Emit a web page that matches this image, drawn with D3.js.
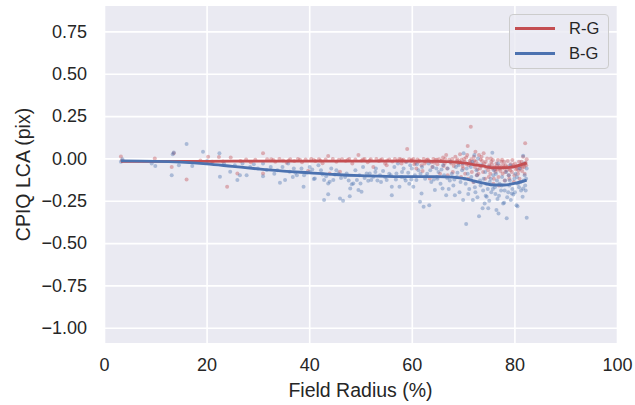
<!DOCTYPE html>
<html>
<head>
<meta charset="utf-8">
<script src="https://cdn.jsdelivr.net/npm/d3@7"></script>
<style>
  html, body { margin: 0; padding: 0; background: #ffffff; }
  svg { display: block; }
  text { font-family: "Liberation Sans", Arial, sans-serif; fill: #262626; }
</style>
</head>
<body>
<svg id="chart" width="635" height="405"></svg>
<script>
// Measured lateral chromatic aberration (pixels) against field radius (%)
const seriesNames = ["R-G", "B-G"];
const seriesColors = ["#c44e52", "#4c72b0"];

const xTicks = [0, 20, 40, 60, 80, 100];
const yTicks = [-1.0, -0.75, -0.5, -0.25, 0.0, 0.25, 0.5, 0.75];

// R-G samples: [field radius, LCA]
const redPoints = [
  [3.3,0.012],[3.5,-0.012],[9.9,0.0],[13.6,0.03],[13.2,-0.05],[16.1,-0.124],[18.8,-0.012],[20.3,0.01],
  [21.2,-0.02],[22.4,0.008],[23.2,-0.018],[24.0,-0.168],[24.7,0.006],[26.0,-0.089],[26.6,-0.015],
  [27.7,-0.006],[28.6,-0.022],[29.5,-0.008],[31.0,0.03],[31.0,-0.089],[31.8,-0.005],
  [32.6,-0.005],[33.4,-0.02],[34.2,-0.004],[34.9,-0.012],[35.6,-0.025],[36.3,-0.005],[37.1,-0.015],
  [37.8,-0.004],[38.6,-0.022],[39.3,-0.006],[39.8,-0.073],[40.4,-0.004],[41.2,-0.016],[41.9,-0.005],
  [42.6,-0.028],[43.2,-0.006],[43.7,0.014],[44.0,-0.089],[44.6,-0.004],[45.3,-0.02],[46.0,-0.079],
  [46.4,-0.005],[47.1,-0.014],[47.8,-0.004],[48.4,-0.03],[49.0,-0.006],[49.6,0.02],[50.2,-0.012],
  [50.8,-0.004],[51.4,-0.022],[52.0,-0.005],[52.5,-0.05],[53.1,-0.004],[53.6,-0.016],[54.2,-0.005],
  [54.8,-0.03],[55.1,-0.04],[55.6,-0.006],[56.2,-0.018],[56.7,-0.004],
  [57.2,-0.012],[57.6,-0.004],[58.0,-0.03],[58.4,-0.008],[58.8,-0.02],[59.1,0.055],[59.5,-0.005],
  [59.9,-0.015],[60.3,-0.004],[60.7,-0.025],[61.1,-0.006],[61.5,-0.012],[61.9,-0.04],[62.3,-0.004],
  [62.7,-0.018],[63.1,-0.006],[63.5,-0.118],[63.8,-0.022],[64.2,-0.004],[64.6,-0.01],[65.0,-0.035],
  [65.3,-0.005],[65.7,-0.016],[66.1,0.006],[66.4,-0.028],[66.7,0.02],[67.0,-0.1],[67.3,-0.008],
  [67.6,-0.02],[67.9,-0.004],[68.2,-0.045],[68.5,0.01],[68.8,-0.015],[69.1,-0.03],[69.4,0.025],
  [69.7,-0.008],[70.0,-0.06],[70.3,-0.02],
  [70.6,0.005],[70.9,0.073],[71.1,-0.04],[71.3,-0.015],[71.5,0.187],[71.7,-0.08],[71.9,-0.03],
  [72.1,0.01],[72.3,-0.05],[72.5,-0.02],[72.7,-0.1],[72.9,-0.035],[73.1,0.02],[73.3,-0.06],
  [73.5,-0.045],[73.7,-0.015],[73.9,-0.08],[74.1,-0.03],[74.3,-0.12],[74.5,-0.055],[74.7,0.0],
  [74.9,-0.07],[75.1,-0.04],[75.3,-0.09],[75.5,-0.02],[75.7,-0.06],[75.9,-0.15],[76.1,-0.05],
  [76.3,-0.08],[76.5,-0.03],[76.7,-0.065],[76.9,-0.11],[77.1,-0.045],[77.3,-0.075],[77.5,-0.02],
  [77.7,-0.09],[77.9,-0.055],[78.1,-0.13],[78.3,-0.04],[78.5,-0.07],[78.7,-0.015],[78.9,-0.1],
  [79.1,-0.06],[79.3,-0.035],[79.5,-0.08],[79.7,-0.05],[79.9,-0.14],[80.1,-0.03],[80.3,-0.065],
  [80.5,-0.045],[80.7,-0.09],[80.9,-0.02],[81.1,-0.06],[81.3,-0.035],[81.5,-0.075],[81.7,0.01],
  [81.9,-0.05],[82.1,0.089],[82.2,-0.025],[82.3,-0.04],[82.4,-0.005],
  [60.9,-0.06],[62.1,-0.075],[64.0,-0.05],[65.5,-0.09],[66.9,-0.06],[68.0,-0.08],[69.6,-0.11],
  [70.4,-0.09],[71.0,-0.12],[72.0,-0.14],[73.0,-0.09],[74.0,0.03],[75.0,-0.11],[76.0,-0.12],
  [77.0,-0.16],[78.0,-0.02],[79.0,-0.12],[80.0,-0.1],[81.0,-0.12],[82.0,-0.09],[70.8,0.02],
  [72.4,0.04],[73.6,0.01],[75.4,0.0],[76.8,-0.01],[79.6,-0.01],[81.4,-0.02],
  [40.9,-0.01],[45.8,-0.008],[50.5,-0.006],[53.9,-0.01],[57.9,-0.006],[60.0,-0.01],[62.9,-0.01],
  [64.9,-0.008],[66.5,-0.004],[68.9,-0.006],[70.2,-0.004],[71.6,-0.005],[73.4,-0.006],[75.8,-0.01],
  [77.6,-0.008],
  [33.0,-0.01],[36.0,-0.012],[38.2,-0.008],[42.2,-0.012],[47.5,-0.01],[51.8,-0.012],[55.2,-0.012],
  [58.2,-0.012],[61.3,-0.02],[63.3,-0.012],[65.9,-0.012],[67.7,-0.03],[69.3,-0.018],[70.7,-0.035],
  [71.4,-0.025],[72.2,-0.012],[72.8,-0.065],[73.8,-0.04],[74.4,-0.02],[75.2,-0.05],[75.6,-0.035],
  [76.2,-0.065],[76.6,-0.045],[77.2,-0.06],[77.8,-0.04],[78.2,-0.08],[78.6,-0.05],[79.2,-0.07],
  [79.8,-0.04],[80.4,-0.055],[80.8,-0.07],[81.2,-0.045],[81.6,-0.05],[82.0,-0.035],[60.5,-0.035],
  [62.5,-0.03],[64.4,-0.025],[66.2,-0.045],[68.4,-0.025],[69.9,-0.045]
];

// B-G samples: [field radius, LCA]
const bluePoints = [
  [3.3,-0.02],[3.6,-0.005],[9.3,-0.03],[10.0,-0.045],[13.2,-0.1],[13.6,0.035],[13.4,0.025],[14.6,-0.04],
  [16.1,0.085],[17.2,-0.045],[19.3,0.04],[20.1,-0.015],[21.0,-0.02],[22.5,0.03],[22.6,-0.109],
  [23.4,-0.03],[24.6,-0.079],[25.5,-0.04],[26.0,-0.128],[26.5,-0.099],[27.0,-0.03],[27.8,-0.099],
  [28.5,-0.05],[29.2,-0.035],[30.0,-0.06],[31.0,-0.03],[31.0,-0.105],[31.7,-0.069],
  [32.5,-0.05],[33.2,-0.09],[34.3,-0.144],[35.3,-0.128],[35.9,-0.03],[36.2,-0.079],[37.0,-0.06],
  [37.6,-0.1],[38.5,-0.059],[38.9,-0.168],[39.5,-0.085],[40.1,-0.05],[40.1,-0.079],[40.9,-0.122],
  [41.1,-0.118],[41.8,-0.04],[42.3,-0.07],[42.9,-0.128],[42.9,-0.246],[43.7,-0.148],[43.7,-0.211],
  [44.0,-0.138],[44.3,-0.06],[44.7,-0.128],[45.0,-0.095],[45.7,-0.089],[46.0,-0.236],[46.6,-0.25],
  [47.0,-0.11],[47.3,-0.089],[47.9,-0.223],[48.0,-0.177],[48.3,-0.152],[48.6,-0.148],[49.0,-0.07],
  [49.3,-0.128],[49.6,-0.187],[50.0,-0.148],[50.2,-0.197],[50.5,-0.05],[51.2,-0.089],[51.5,-0.132],
  [51.8,-0.089],[52.1,-0.128],[52.5,-0.109],[53.0,-0.06],[53.8,-0.099],[54.4,-0.075],[55.1,-0.128],
  [55.6,-0.09],[56.1,-0.168],[56.1,-0.217],[56.6,-0.05],
  [57.0,-0.089],[57.6,-0.168],[58.0,-0.11],[58.4,-0.06],[58.8,-0.13],[59.3,-0.085],[59.7,-0.04],
  [60.3,-0.168],[60.6,-0.1],[60.9,-0.128],[61.3,-0.07],[61.6,-0.256],[61.9,-0.207],[62.3,-0.286],
  [62.6,-0.12],[63.0,-0.09],[63.4,-0.276],[63.8,-0.14],[64.1,-0.05],[64.5,-0.187],[64.9,-0.11],
  [65.2,-0.08],[65.6,-0.15],[66.0,-0.177],[66.3,-0.1],[66.7,-0.217],[67.0,-0.06],[67.4,-0.13],
  [67.8,-0.09],[68.1,-0.16],[68.4,-0.217],[68.8,-0.11],[69.1,-0.04],[69.5,-0.14],[69.8,-0.07],
  [70.0,-0.246],
  [70.3,-0.12],[70.6,-0.388],[70.9,-0.09],[71.2,-0.18],[71.5,-0.05],[71.9,-0.246],[72.1,-0.14],
  [72.4,-0.2],[72.7,-0.1],[72.9,0.0],[73.1,-0.341],[73.4,-0.16],[73.8,-0.295],[74.0,-0.12],
  [74.2,-0.266],[74.4,-0.221],[74.6,-0.227],[74.8,-0.18],[74.9,-0.295],[75.2,-0.14],[75.5,-0.2],
  [75.7,0.033],[75.9,-0.1],[76.2,-0.17],[76.5,-0.305],[76.7,-0.24],[76.9,-0.325],[77.1,-0.15],
  [77.4,-0.19],[77.8,-0.266],[78.0,-0.262],[78.2,-0.13],[78.5,-0.354],[78.8,-0.2],[79.0,-0.16],
  [79.3,-0.246],[79.5,-0.207],[79.8,-0.213],[80.0,-0.12],[80.4,-0.276],[80.6,-0.282],[80.9,-0.17],
  [81.2,-0.14],[81.6,-0.227],[81.7,-0.177],[81.7,0.016],[82.0,-0.1],[82.2,-0.19],[82.4,-0.351],
  [82.4,-0.06],
  [57.3,-0.03],[59.0,-0.02],[60.0,-0.06],[61.0,-0.035],[62.0,-0.05],[63.3,-0.03],[64.8,-0.06],
  [66.1,-0.04],[67.5,-0.02],[68.6,-0.05],[69.9,-0.03],[70.7,-0.06],[71.8,-0.02],[72.6,-0.07],
  [73.5,-0.04],[74.3,-0.08],[75.0,-0.05],[76.0,-0.07],[76.8,-0.03],[77.6,-0.11],[78.4,-0.08],
  [79.2,-0.04],[80.2,-0.09],[81.0,-0.06],[81.9,-0.03],[70.1,0.03],[72.2,0.02],
  [33.8,-0.07],[36.8,-0.11],[39.0,-0.1],[43.3,-0.105],[46.2,-0.115],[50.8,-0.115],[53.3,-0.13],
  [54.8,-0.11],[55.9,-0.1],[58.6,-0.115],[59.9,-0.125],[62.8,-0.105],[65.0,-0.12],[66.9,-0.115],
  [68.3,-0.125],
  [34.8,-0.05],[37.3,-0.085],[40.6,-0.065],[42.6,-0.095],[45.3,-0.07],[47.7,-0.13],[49.8,-0.1],
  [52.9,-0.08],[54.0,-0.14],[56.9,-0.125],[58.1,-0.08],[59.5,-0.15],[61.7,-0.09],[63.6,-0.07],
  [64.3,-0.125],[65.8,-0.065],[67.2,-0.18],[68.9,-0.085],[69.3,-0.2],[70.5,-0.15],[71.0,-0.21],
  [71.6,-0.11],[72.3,-0.17],[72.8,-0.23],[73.3,-0.13],[73.9,-0.19],[74.5,-0.15],[75.1,-0.25],
  [75.4,-0.12],[75.8,-0.18],[76.3,-0.21],[76.6,-0.13],[77.0,-0.22],[77.5,-0.16],[78.1,-0.19],
  [78.6,-0.23],[79.1,-0.13],[79.6,-0.18],[80.1,-0.2],[80.7,-0.15],[81.3,-0.19],[81.8,-0.13],
  [82.1,-0.16],[82.3,-0.12],[76.4,-0.09],[78.9,-0.1],[80.5,-0.11]
];

// Smoothed trend of each series
const redTrend = [
  [3.3,-0.017],[10,-0.017],[20,-0.017],[30,-0.016],[40,-0.016],[50,-0.016],[60,-0.016],[65,-0.017],
  [68,-0.02],[70,-0.027],[72,-0.036],[74,-0.046],[76,-0.055],[78,-0.055],[80,-0.048],[82.4,-0.026]
];
const blueTrend = [
  [3.3,-0.015],[10,-0.017],[15,-0.022],[20,-0.032],[25,-0.047],[30,-0.062],[35,-0.075],[40,-0.085],
  [45,-0.095],[50,-0.102],[55,-0.106],[60,-0.108],[65,-0.108],[68,-0.11],[70,-0.118],[72,-0.132],
  [74,-0.146],[76,-0.157],[78,-0.157],[80,-0.148],[82.4,-0.128]
];

const svg = d3.select("#chart");
const margin = { left: 104, right: 18, top: 6, bottom: 62 };
const W = 635, H = 405;

const x = d3.scaleLinear().domain([0, 100]).range([margin.left, W - margin.right]);
const y = d3.scaleLinear().domain([-1.09, 0.9]).range([H - margin.bottom, margin.top]);

// plot background
svg.append("rect")
  .attr("x", x(0)).attr("y", y(0.9))
  .attr("width", x(100) - x(0)).attr("height", y(-1.09) - y(0.9))
  .attr("fill", "#eaeaf2");

// grid lines via axes
const fmtY = v => d3.format(".2f")(v).replace("-", "\u2212");
const gx = svg.append("g")
  .attr("transform", `translate(0,${y(-1.09)})`)
  .call(d3.axisBottom(x).tickValues(xTicks).tickSize(-(y(-1.09) - y(0.9))).tickPadding(15).tickFormat(d3.format("d")));
const gy = svg.append("g")
  .attr("transform", `translate(${x(0)},0)`)
  .call(d3.axisLeft(y).tickValues(yTicks).tickSize(-(x(100) - x(0))).tickPadding(17).tickFormat(fmtY));

[gx, gy].forEach(g => {
  g.select(".domain").remove();
  g.selectAll(".tick line").attr("stroke", "#ffffff").attr("stroke-width", 1.6);
  g.selectAll(".tick text").style("font-size", "18px").attr("fill", "#262626");
});

svg.append("defs").append("clipPath").attr("id", "plot-clip")
  .append("rect").attr("x", x(0)).attr("y", y(0.9))
  .attr("width", x(100) - x(0)).attr("height", y(-1.09) - y(0.9));

const plot = svg.append("g").attr("clip-path", "url(#plot-clip)");

// scatter points
plot.append("g").selectAll("circle").data(redPoints).join("circle")
  .attr("cx", d => x(d[0])).attr("cy", d => y(d[1])).attr("r", 2)
  .attr("fill", seriesColors[0]).attr("fill-opacity", 0.4);
plot.append("g").selectAll("circle").data(bluePoints).join("circle")
  .attr("cx", d => x(d[0])).attr("cy", d => y(d[1])).attr("r", 2)
  .attr("fill", seriesColors[1]).attr("fill-opacity", 0.4);

// trend lines
const line = d3.line().x(d => x(d[0])).y(d => y(d[1])).curve(d3.curveMonotoneX);
plot.append("path").datum(redTrend).attr("d", line)
  .attr("fill", "none").attr("stroke", seriesColors[0]).attr("stroke-width", 2.8);
plot.append("path").datum(blueTrend).attr("d", line)
  .attr("fill", "none").attr("stroke", seriesColors[1]).attr("stroke-width", 2.8);

// axis titles
svg.append("text")
  .attr("x", (x(0) + x(100)) / 2).attr("y", 397)
  .attr("text-anchor", "middle").style("font-size", "19.5px")
  .text("Field Radius (%)");
svg.append("text")
  .attr("transform", `translate(29.5,${(y(0.9) + y(-1.09)) / 2}) rotate(-90)`)
  .attr("text-anchor", "middle").style("font-size", "19.5px")
  .text("CPIQ LCA (pix)");

// legend
const lg = svg.append("g");
lg.append("rect")
  .attr("x", 509.5).attr("y", 14.5).attr("width", 99).attr("height", 54)
  .attr("rx", 3.5).attr("fill", "#eaeaf2").attr("fill-opacity", 0.8)
  .attr("stroke", "#cccccc").attr("stroke-width", 1);
seriesNames.forEach((name, i) => {
  const ly = 28.5 + i * 25;
  lg.append("line").attr("x1", 515).attr("x2", 555).attr("y1", ly).attr("y2", ly)
    .attr("stroke", seriesColors[i]).attr("stroke-width", 2.8);
  lg.append("text").attr("x", 569).attr("y", ly + 5.5)
    .style("font-size", "16.5px").text(name);
});
</script>
</body>
</html>
